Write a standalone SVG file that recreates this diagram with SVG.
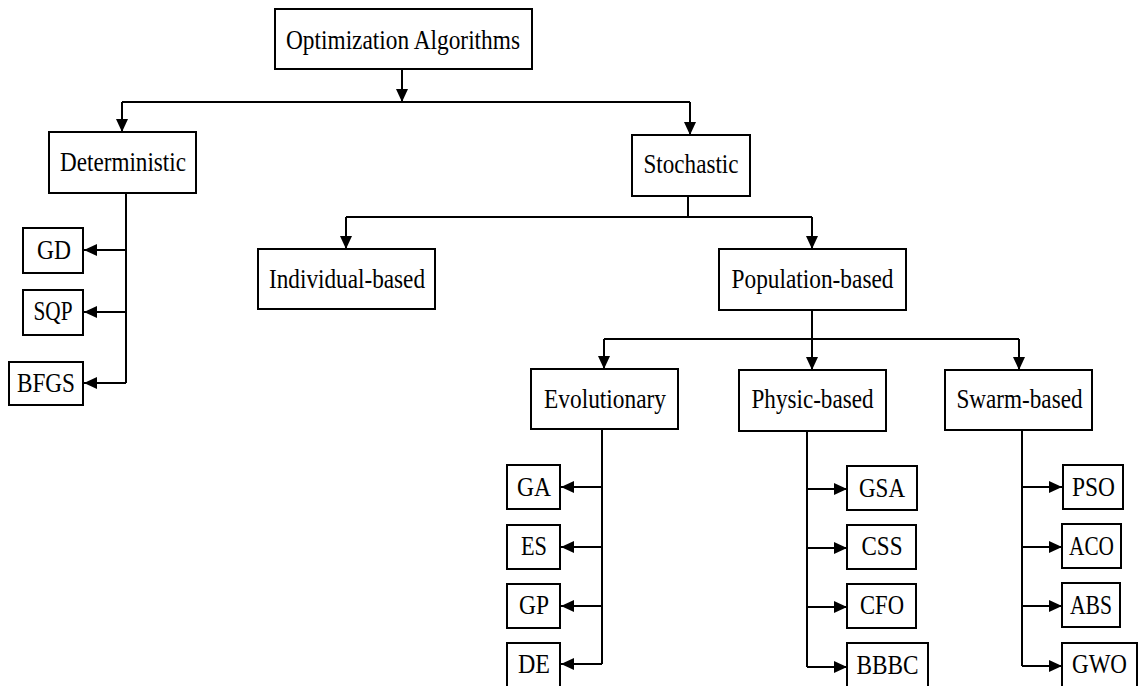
<svg xmlns="http://www.w3.org/2000/svg" width="1138" height="686" viewBox="0 0 1138 686">
  <style>
    .box { fill: #ffffff; stroke: #000000; stroke-width: 2; }
    .lbl { font-family: 'Liberation Serif', 'Times New Roman', serif; font-size: 28px; fill: #000000; text-anchor: middle; }
    .wire { fill: none; stroke: #000000; stroke-width: 2; }
    .arr { fill: none; stroke: #000000; stroke-width: 2; marker-end: url(#head); }
  </style>
  <defs>
    <marker id="head" markerUnits="userSpaceOnUse" markerWidth="13" markerHeight="12" refX="13" refY="6" orient="auto">
      <path d="M0,0 L13,6 L0,12 Z" fill="#000000"/>
    </marker>
  </defs>
  <rect width="1138" height="686" fill="#ffffff"/>

  <!-- connectors -->
  <g id="connectors">
    <!-- root to first level -->
    <path class="arr" d="M402,69 V102"/>
    <path class="wire" d="M122,102 H690"/>
    <path class="arr" d="M122,102 V132"/>
    <path class="arr" d="M690,102 V135"/>
    <!-- stochastic split -->
    <path class="wire" d="M688,196 V217"/>
    <path class="wire" d="M346,217 H812"/>
    <path class="arr" d="M346,217 V249"/>
    <path class="arr" d="M812,217 V249"/>
    <!-- population split -->
    <path class="wire" d="M812,310 V339"/>
    <path class="wire" d="M604,339 H1019"/>
    <path class="arr" d="M812,339 V370"/>
    <path class="arr" d="M604,339 V369"/>
    <path class="arr" d="M1019,339 V370"/>
    <!-- deterministic leaves -->
    <path class="wire" d="M126,193 V383"/>
    <path class="arr" d="M126,250 H84"/>
    <path class="arr" d="M126,312 H84"/>
    <path class="arr" d="M126,383 H84"/>
    <!-- evolutionary leaves -->
    <path class="wire" d="M602,429 V664"/>
    <path class="arr" d="M602,487 H561"/>
    <path class="arr" d="M602,547 H561"/>
    <path class="arr" d="M602,606 H561"/>
    <path class="arr" d="M602,664 H561"/>
    <!-- physic-based leaves -->
    <path class="wire" d="M807,431 V667"/>
    <path class="arr" d="M807,489 H847"/>
    <path class="arr" d="M807,548 H847"/>
    <path class="arr" d="M807,607 H847"/>
    <path class="arr" d="M807,667 H847"/>
    <!-- swarm-based leaves -->
    <path class="wire" d="M1022,430 V666"/>
    <path class="arr" d="M1022,487 H1062"/>
    <path class="arr" d="M1022,547 H1062"/>
    <path class="arr" d="M1022,606 H1062"/>
    <path class="arr" d="M1022,666 H1062"/>
  </g>

  <!-- nodes -->
  <g id="root">
    <rect class="box" x="275" y="9" width="257" height="60"/>
    <text class="lbl" x="403" y="49" textLength="234" lengthAdjust="spacingAndGlyphs">Optimization Algorithms</text>
  </g>
  <g id="deterministic">
    <rect class="box" x="49" y="132" width="147" height="61"/>
    <text class="lbl" x="123" y="171" textLength="126" lengthAdjust="spacingAndGlyphs">Deterministic</text>
  </g>
  <g id="stochastic">
    <rect class="box" x="632" y="135" width="118" height="61"/>
    <text class="lbl" x="691" y="173" textLength="95" lengthAdjust="spacingAndGlyphs">Stochastic</text>
  </g>
  <g id="gd">
    <rect class="box" x="23" y="228" width="60" height="45"/>
    <text class="lbl" x="54" y="259" textLength="34" lengthAdjust="spacingAndGlyphs">GD</text>
  </g>
  <g id="sqp">
    <rect class="box" x="23" y="290" width="60" height="45"/>
    <text class="lbl" x="53" y="320" textLength="39" lengthAdjust="spacingAndGlyphs">SQP</text>
  </g>
  <g id="bfgs">
    <rect class="box" x="9" y="362" width="74" height="43"/>
    <text class="lbl" x="46" y="392" textLength="58" lengthAdjust="spacingAndGlyphs">BFGS</text>
  </g>
  <g id="individual-based">
    <rect class="box" x="258" y="249" width="177" height="60"/>
    <text class="lbl" x="347" y="288" textLength="156" lengthAdjust="spacingAndGlyphs">Individual-based</text>
  </g>
  <g id="population-based">
    <rect class="box" x="719" y="249" width="187" height="61"/>
    <text class="lbl" x="812.5" y="288" textLength="162" lengthAdjust="spacingAndGlyphs">Population-based</text>
  </g>
  <g id="evolutionary">
    <rect class="box" x="531" y="369" width="147" height="60"/>
    <text class="lbl" x="605" y="408" textLength="122" lengthAdjust="spacingAndGlyphs">Evolutionary</text>
  </g>
  <g id="physic-based">
    <rect class="box" x="739" y="370" width="147" height="61"/>
    <text class="lbl" x="812.5" y="408" textLength="122" lengthAdjust="spacingAndGlyphs">Physic-based</text>
  </g>
  <g id="swarm-based">
    <rect class="box" x="945" y="370" width="147" height="60"/>
    <text class="lbl" x="1019.5" y="408" textLength="126" lengthAdjust="spacingAndGlyphs">Swarm-based</text>
  </g>
  <g id="ga">
    <rect class="box" x="507" y="465" width="53" height="44"/>
    <text class="lbl" x="534" y="496" textLength="34" lengthAdjust="spacingAndGlyphs">GA</text>
  </g>
  <g id="es">
    <rect class="box" x="507" y="525" width="53" height="44"/>
    <text class="lbl" x="534" y="555" textLength="26" lengthAdjust="spacingAndGlyphs">ES</text>
  </g>
  <g id="gp">
    <rect class="box" x="507" y="584" width="53" height="44"/>
    <text class="lbl" x="534" y="614" textLength="30" lengthAdjust="spacingAndGlyphs">GP</text>
  </g>
  <g id="de">
    <rect class="box" x="507" y="643" width="53" height="45"/>
    <text class="lbl" x="534" y="673" textLength="32" lengthAdjust="spacingAndGlyphs">DE</text>
  </g>
  <g id="gsa">
    <rect class="box" x="847" y="466" width="70" height="44"/>
    <text class="lbl" x="882" y="497" textLength="46" lengthAdjust="spacingAndGlyphs">GSA</text>
  </g>
  <g id="css">
    <rect class="box" x="847" y="525" width="69" height="44"/>
    <text class="lbl" x="882" y="555" textLength="41" lengthAdjust="spacingAndGlyphs">CSS</text>
  </g>
  <g id="cfo">
    <rect class="box" x="847" y="584" width="69" height="44"/>
    <text class="lbl" x="882" y="614" textLength="44" lengthAdjust="spacingAndGlyphs">CFO</text>
  </g>
  <g id="bbbc">
    <rect class="box" x="847" y="643" width="81" height="45"/>
    <text class="lbl" x="887.5" y="674" textLength="62" lengthAdjust="spacingAndGlyphs">BBBC</text>
  </g>
  <g id="pso">
    <rect class="box" x="1063" y="465" width="60" height="44"/>
    <text class="lbl" x="1093.5" y="496" textLength="43" lengthAdjust="spacingAndGlyphs">PSO</text>
  </g>
  <g id="aco">
    <rect class="box" x="1062" y="524" width="59" height="44"/>
    <text class="lbl" x="1091.5" y="555" textLength="45" lengthAdjust="spacingAndGlyphs">ACO</text>
  </g>
  <g id="abs">
    <rect class="box" x="1062" y="583" width="58" height="44"/>
    <text class="lbl" x="1091" y="614" textLength="42" lengthAdjust="spacingAndGlyphs">ABS</text>
  </g>
  <g id="gwo">
    <rect class="box" x="1062" y="643" width="75" height="45"/>
    <text class="lbl" x="1099.5" y="673" textLength="55" lengthAdjust="spacingAndGlyphs">GWO</text>
  </g>
</svg>
